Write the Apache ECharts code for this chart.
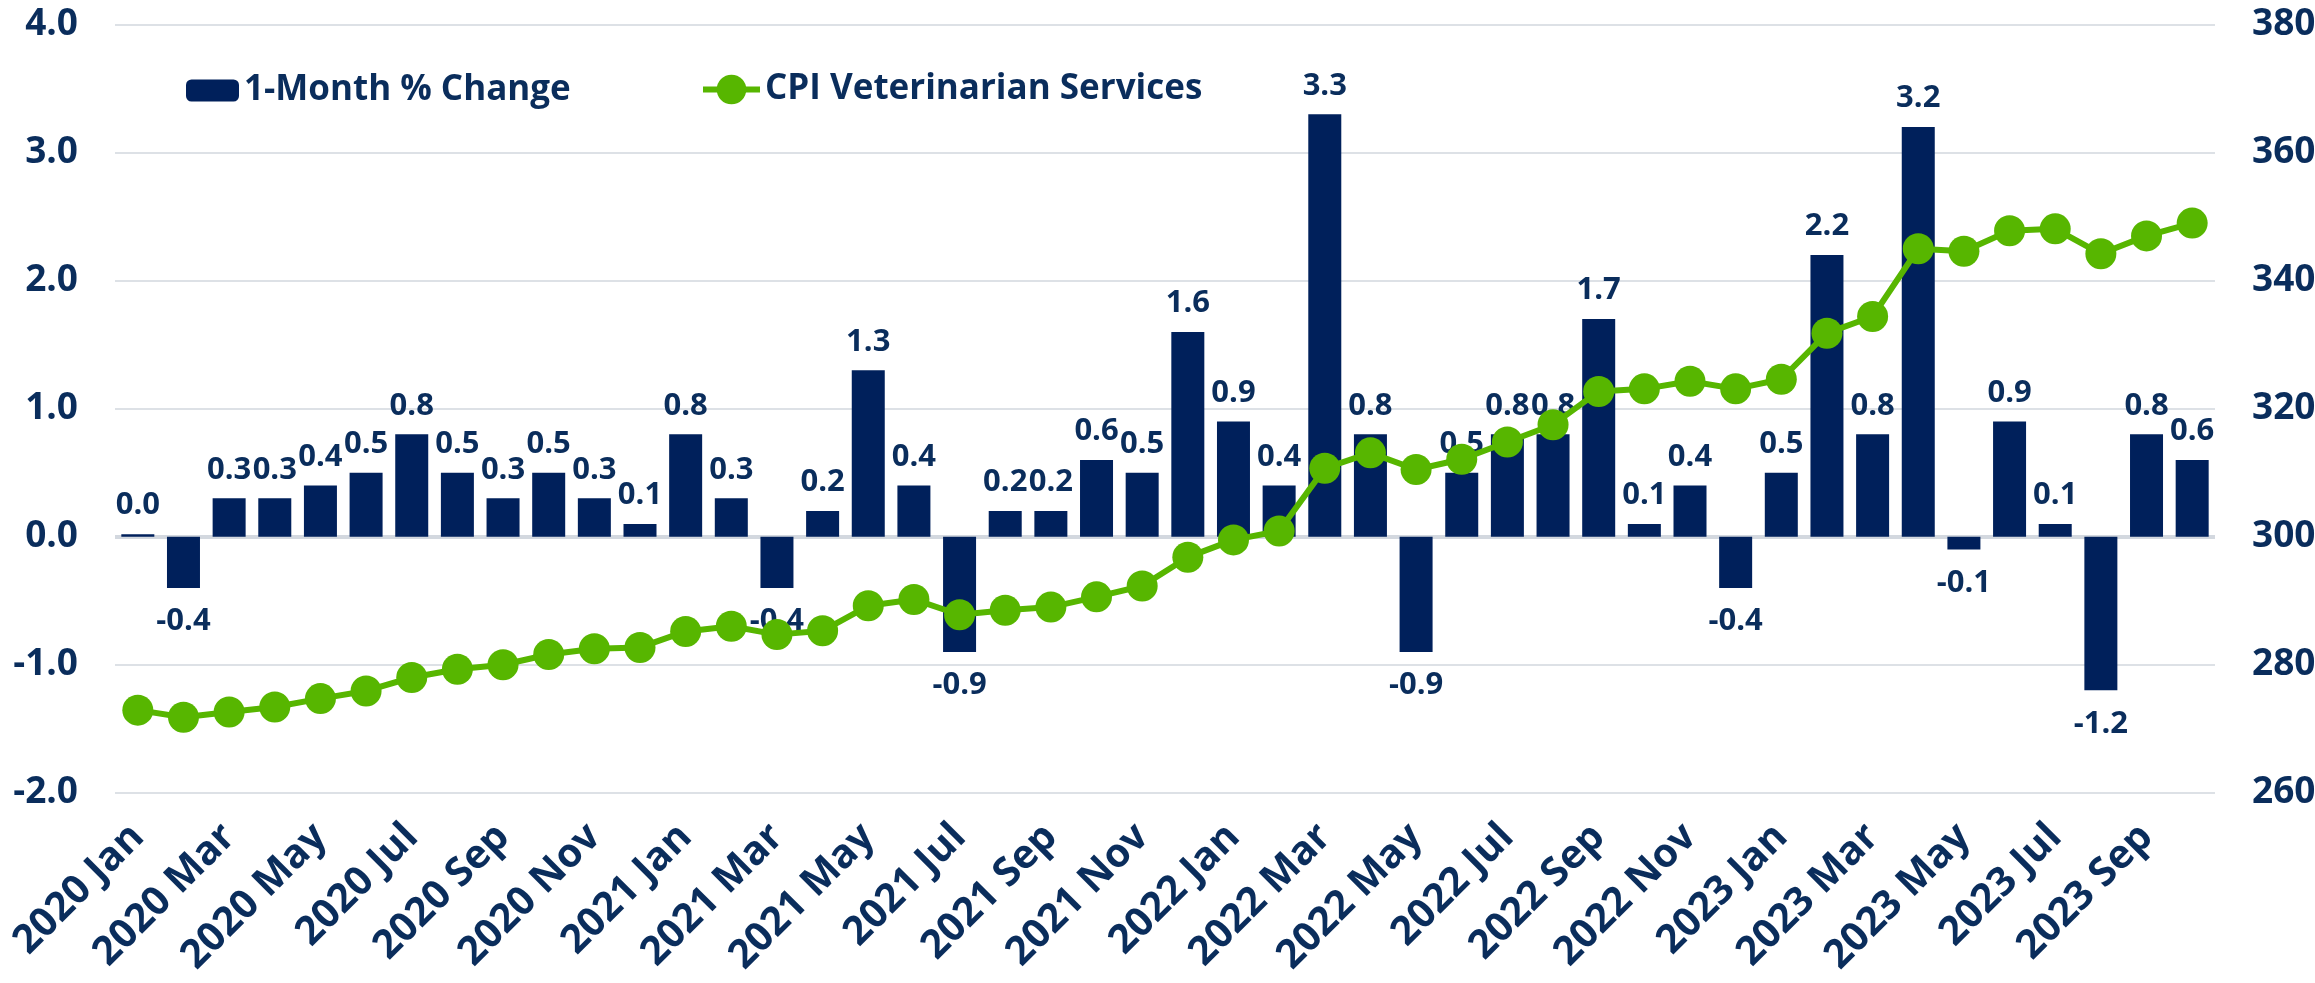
<!DOCTYPE html>
<html>
<head>
<meta charset="utf-8">
<script src="https://cdn.jsdelivr.net/npm/echarts@6/dist/echarts.min.js"></script>
<style>
html,body{margin:0;padding:0;background:#fff;}
#chart{width:2315px;height:983px;}
</style>
</head>
<body>
<div id="chart"></div>
<script>
const categories = [
  '2020 Jan','2020 Feb','2020 Mar','2020 Apr','2020 May','2020 Jun','2020 Jul','2020 Aug','2020 Sep','2020 Oct','2020 Nov','2020 Dec',
  '2021 Jan','2021 Feb','2021 Mar','2021 Apr','2021 May','2021 Jun','2021 Jul','2021 Aug','2021 Sep','2021 Oct','2021 Nov','2021 Dec',
  '2022 Jan','2022 Feb','2022 Mar','2022 Apr','2022 May','2022 Jun','2022 Jul','2022 Aug','2022 Sep','2022 Oct','2022 Nov','2022 Dec',
  '2023 Jan','2023 Feb','2023 Mar','2023 Apr','2023 May','2023 Jun','2023 Jul','2023 Aug','2023 Sep','2023 Oct'
];
const monthlyChange = [
  0.02,-0.4,0.3,0.3,0.4,0.5,0.8,0.5,0.3,0.5,0.3,0.1,
  0.8,0.3,-0.4,0.2,1.3,0.4,-0.9,0.2,0.2,0.6,0.5,1.6,
  0.9,0.4,3.3,0.8,-0.9,0.5,0.8,0.8,1.7,0.1,0.4,-0.4,
  0.5,2.2,0.8,3.2,-0.1,0.9,0.1,-1.2,0.8,0.6
];
const cpiVet = [
  272.9,271.8,272.6,273.4,274.7,275.9,278.0,279.3,280.0,281.6,282.5,282.7,
  285.2,286.0,284.7,285.3,289.2,290.2,287.8,288.5,289.0,290.6,292.3,296.8,
  299.5,300.9,310.7,313.1,310.5,312.1,314.8,317.5,322.7,323.1,324.3,323.1,
  324.6,331.8,334.4,345.0,344.6,347.8,348.1,344.2,347.0,349.0
];
const leftTicks = {min:-2, max:4, interval:1};
const rightTicks = {min:260, max:380, interval:20};
const barName = '1-Month % Change';
const lineName = 'CPI Veterinarian Services';

const NAVY = '#00205b';
const TEXT = '#0a2d5c';
const GREEN = '#57b600';
const FONT = '"Open Sans", "Noto Sans", sans-serif';

const barData = monthlyChange.map(v => ({
  value: v,
  label: { position: v < 0 ? 'bottom' : 'top', distance: v < 0 ? 18 : 13 }
}));

const chart = echarts.init(document.getElementById('chart'), null, {renderer:'canvas'});
chart.setOption({
  animation: false,
  backgroundColor: '#ffffff',
  textStyle: { fontFamily: FONT },
  grid: { left: 115, right: 100, top: 24.7, bottom: 190.3, containLabel: false, outerBoundsMode: 'none' },
  legend: [
    {
      data: [barName], left: 186, top: 73, padding: 0,
      itemWidth: 53, itemHeight: 22, selectedMode: false,
      textStyle: { fontSize: 35, fontWeight: 'bold', color: TEXT, fontFamily: FONT }
    },
    {
      data: [lineName], left: 700, top: 72, padding: 0,
      itemWidth: 57, itemHeight: 37, selectedMode: false,
      lineStyle: { width: 6 },
      textStyle: { fontSize: 35, fontWeight: 'bold', color: TEXT, fontFamily: FONT }
    }
  ],
  xAxis: {
    type: 'category',
    data: categories,
    axisLine: { show: false },
    axisTick: { show: false },
    axisLabel: {
      interval: 1, rotate: 45, margin: 38,
      fontSize: 40, fontWeight: 'bold', color: TEXT, fontFamily: FONT
    }
  },
  yAxis: [
    {
      type: 'value', min: leftTicks.min, max: leftTicks.max, interval: leftTicks.interval,
      axisLine: { show: false }, axisTick: { show: false },
      axisLabel: { formatter: v => v.toFixed(1), margin: 37, fontSize: 37, fontWeight: 'bold', color: TEXT, fontFamily: FONT },
      splitLine: { lineStyle: { color: '#dde1e6', width: 2 } }
    },
    {
      type: 'value', min: rightTicks.min, max: rightTicks.max, interval: rightTicks.interval,
      position: 'right',
      axisLine: { show: false }, axisTick: { show: false },
      axisLabel: { margin: 37, fontSize: 37, fontWeight: 'bold', color: TEXT, fontFamily: FONT },
      splitLine: { show: false }
    }
  ],
  series: [
    {
      name: barName,
      type: 'bar',
      data: barData,
      barWidth: 33,
      itemStyle: { color: NAVY },
      label: {
        show: true,
        formatter: p => p.value.toFixed(1),
        fontSize: 31, fontWeight: 'bold', color: TEXT, fontFamily: FONT
      },
      markLine: {
        silent: true, symbol: 'none', label: { show: false },
        lineStyle: { color: '#d3d8df', width: 4, type: 'solid' },
        data: [{ yAxis: 0 }],
        z: 1
      }
    },
    {
      name: lineName,
      type: 'line',
      yAxisIndex: 1,
      data: cpiVet,
      symbol: 'circle',
      symbolSize: 31,
      showSymbol: true,
      showAllSymbol: true,
      itemStyle: { color: GREEN },
      lineStyle: { color: GREEN, width: 6 },
      z: 5
    }
  ]
});
</script>
</body>
</html>
